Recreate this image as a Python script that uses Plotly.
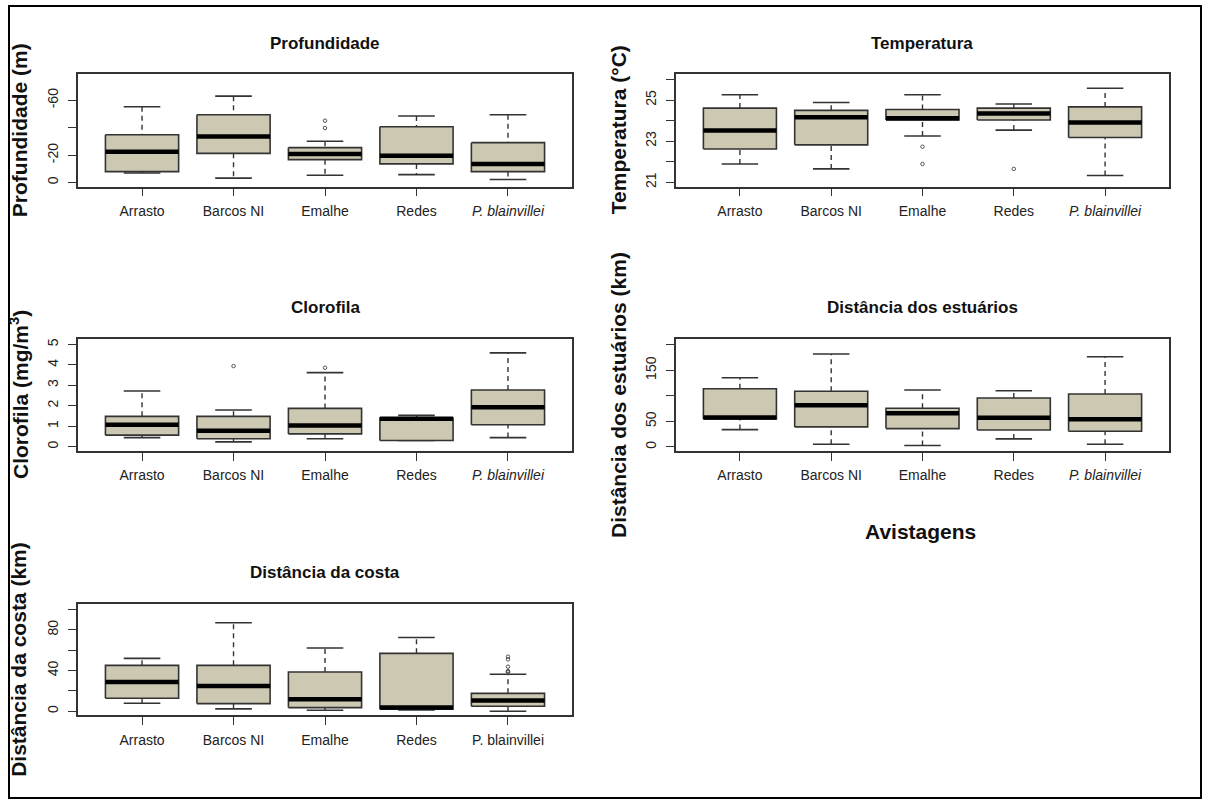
import plotly.graph_objects as go

W, H = 1205, 802

categories = ["Arrasto", "Barcos NI", "Emalhe", "Redes", "P. blainvillei"]
cat_pos = [1, 2, 3, 4, 5]

# ---- Profundidade (m) ----
prof_min = [-55.3, -63.0, -30.1, -48.5, -49.5]
prof_q1 = [-34.9, -49.5, -25.5, -40.7, -29.1]
prof_med = [-22.5, -33.5, -20.8, -19.6, -13.6]
prof_q3 = [-8.0, -21.3, -16.7, -13.6, -8.0]
prof_max = [-7.0, -3.2, -5.3, -5.8, -2.2]
prof_out_cat = [3, 3]
prof_out_val = [-45.1, -39.8]
prof_ticks = [0, -20, -60]
prof_ticktext = ["0", "-20", "-60"]
prof_minor = [-40]

# ---- Temperatura (°C) ----
temp_min = [21.89, 21.65, 23.25, 23.54, 21.33]
temp_q1 = [22.62, 22.82, 24.03, 24.03, 23.18]
temp_med = [23.52, 24.16, 24.11, 24.35, 23.91]
temp_q3 = [24.61, 24.50, 24.54, 24.61, 24.67]
temp_max = [25.26, 24.88, 25.26, 24.81, 25.58]
temp_out_cat = [3, 3, 4]
temp_out_val = [22.73, 21.89, 21.65]
temp_ticks = [21, 23, 25]
temp_ticktext = ["21", "23", "25"]
temp_minor = [22, 24, 26]

# ---- Clorofila (mg/m3) ----
chl_min = [0.44, 0.23, 0.38, 0.30, 0.44]
chl_q1 = [0.56, 0.38, 0.62, 0.30, 1.07]
chl_med = [1.07, 0.77, 1.03, 1.36, 1.92]
chl_q3 = [1.48, 1.48, 1.87, 1.40, 2.77]
chl_max = [2.72, 1.79, 3.62, 1.53, 4.59]
chl_out_cat = [2, 3]
chl_out_val = [3.94, 3.86]
chl_ticks = [0, 1, 2, 3, 4, 5]
chl_ticktext = ["0", "1", "2", "3", "4", "5"]
chl_minor = []

# ---- Distância dos estuários (km) ----
est_min = [33.9, 5.2, 2.6, 15.6, 5.2]
est_q1 = [54.5, 39.1, 35.8, 33.2, 30.7]
est_med = [57.5, 81.5, 65.8, 57.3, 54.1]
est_q3 = [114.0, 108.9, 75.6, 95.8, 103.6]
est_max = [135.5, 181.8, 111.4, 110.0, 176.6]
est_out_cat = []
est_out_val = []
est_ticks = [0, 50, 150]
est_ticktext = ["0", "50", "150"]
est_minor = [100, 200]

# ---- Distância da costa (km) ----
cost_min = [7.8, 2.3, 1.0, 1.3, 0.0]
cost_q1 = [12.7, 7.5, 3.6, 2.0, 4.9]
cost_med = [28.8, 24.8, 11.8, 3.6, 10.5]
cost_q3 = [45.1, 45.1, 38.6, 56.9, 17.6]
cost_max = [52.0, 86.9, 62.1, 72.5, 36.3]
cost_out_cat = [5, 5, 5, 5, 5, 5]
cost_out_val = [38.3, 38.9, 39.4, 43.8, 51.0, 53.6]
cost_ticks = [0, 40, 80]
cost_ticktext = ["0", "40", "80"]
cost_minor = [20, 60, 100]

FONT = "Liberation Sans, Arial, sans-serif"
BOX_FILL = "#CDC8B1"
EDGE = "#333333"
HALF = 0.4
CAP = 0.2

fig = go.Figure()


def add_panel(k, mins, q1, med, q3, maxs, oc, ov):
    xa = "x" if k == 1 else f"x{k}"
    ya = "y" if k == 1 else f"y{k}"
    # whiskers (dashed)
    wx, wy = [], []
    for p, a, b, c, d in zip(cat_pos, mins, q1, q3, maxs):
        wx += [p, p, None, p, p, None]
        wy += [a, b, None, c, d, None]
    fig.add_trace(go.Scatter(x=wx, y=wy, xaxis=xa, yaxis=ya, mode="lines",
                             line=dict(color=EDGE, width=1.4, dash="5px,4px"),
                             hoverinfo="skip", showlegend=False))
    # caps
    cx, cy = [], []
    for p, a, d in zip(cat_pos, mins, maxs):
        cx += [p - CAP, p + CAP, None, p - CAP, p + CAP, None]
        cy += [a, a, None, d, d, None]
    fig.add_trace(go.Scatter(x=cx, y=cy, xaxis=xa, yaxis=ya, mode="lines",
                             line=dict(color=EDGE, width=1.6),
                             hoverinfo="skip", showlegend=False))
    # boxes
    bx, by = [], []
    for p, b, c in zip(cat_pos, q1, q3):
        bx += [p - HALF, p + HALF, p + HALF, p - HALF, p - HALF, None]
        by += [b, b, c, c, b, None]
    fig.add_trace(go.Scatter(x=bx, y=by, xaxis=xa, yaxis=ya, mode="lines",
                             fill="toself", fillcolor=BOX_FILL,
                             line=dict(color=EDGE, width=1.6),
                             hoverinfo="skip", showlegend=False))
    # medians
    mx, my = [], []
    for p, m in zip(cat_pos, med):
        mx += [p - HALF, p + HALF, None]
        my += [m, m, None]
    fig.add_trace(go.Scatter(x=mx, y=my, xaxis=xa, yaxis=ya, mode="lines",
                             line=dict(color="black", width=4.5),
                             hoverinfo="skip", showlegend=False))
    if ov:
        fig.add_trace(go.Scatter(x=oc, y=ov, xaxis=xa, yaxis=ya, mode="markers",
                                 marker=dict(symbol="circle-open", size=3.5,
                                             color="#555555", line=dict(width=1)),
                                 hoverinfo="skip", showlegend=False))


add_panel(1, prof_min, prof_q1, prof_med, prof_q3, prof_max, prof_out_cat, prof_out_val)
add_panel(2, temp_min, temp_q1, temp_med, temp_q3, temp_max, temp_out_cat, temp_out_val)
add_panel(3, chl_min, chl_q1, chl_med, chl_q3, chl_max, chl_out_cat, chl_out_val)
add_panel(4, est_min, est_q1, est_med, est_q3, est_max, est_out_cat, est_out_val)
add_panel(5, cost_min, cost_q1, cost_med, cost_q3, cost_max, cost_out_cat, cost_out_val)

# panel geometry in pixels: (x0, x1, ytop, ybottom)
panels = {
    1: (78, 572, 73, 186),
    2: (676, 1169, 73, 186),
    3: (78, 572, 339, 451),
    4: (676, 1169, 339, 451),
    5: (78, 572, 605, 716),
}
yranges = {
    1: [2.9, -79.3],
    2: [20.79, 26.28],
    3: [-0.21, 5.26],
    4: [-7.8, 211],
    5: [-3.9, 104.9],
}
yticks = {
    1: (prof_ticks, prof_ticktext, prof_minor),
    2: (temp_ticks, temp_ticktext, temp_minor),
    3: (chl_ticks, chl_ticktext, chl_minor),
    4: (est_ticks, est_ticktext, est_minor),
    5: (cost_ticks, cost_ticktext, cost_minor),
}
titles = {
    1: "Profundidade",
    2: "Temperatura",
    3: "Clorofila",
    4: "Distância dos estuários",
    5: "Distância da costa",
}
ytitles = {
    1: "Profundidade (m)",
    2: "Temperatura (°C)",
    3: "Clorofila (mg/m<sup>3</sup>)",
    4: "Distância dos estuários (km)",
    5: "Distância da costa (km)",
}

italic_labels = categories[:4] + ["<i>" + categories[4] + "</i>"]

layout = dict(
    width=W, height=H,
    margin=dict(l=0, r=0, t=0, b=0),
    paper_bgcolor="white", plot_bgcolor="white",
    font=dict(family=FONT, color="#222222", size=14),
    showlegend=False,
)

annotations = []
for k, (x0, x1, yt, yb) in panels.items():
    sx = "" if k == 1 else str(k)
    xdom = [x0 / W, x1 / W]
    ydom = [1 - yb / H, 1 - yt / H]
    layout["xaxis" + sx] = dict(
        domain=xdom, anchor="y" + sx, range=[0.3, 5.7],
        tickvals=cat_pos,
        ticktext=(italic_labels if k != 5 else categories),
        showgrid=False, zeroline=False,
        showline=True, mirror=True, linecolor=EDGE, linewidth=1.5,
        ticks="outside", ticklen=8, tickwidth=1.3, tickcolor=EDGE,
        tickfont=dict(size=14, color="#222222"),
        ticklabelstandoff=3,
    )
    tv, tt, mv = yticks[k]
    yax = dict(
        domain=ydom, anchor="x" + sx, range=yranges[k],
        tickvals=tv, ticktext=tt, tickangle=-90,
        showgrid=False, zeroline=False,
        showline=True, mirror=True, linecolor=EDGE, linewidth=1.5,
        ticks="outside", ticklen=8, tickwidth=1.3, tickcolor=EDGE,
        tickfont=dict(size=14, color="#222222"),
        ticklabelstandoff=5,
    )
    if mv:
        yax["minor"] = dict(tickvals=mv, ticks="outside", ticklen=8,
                            tickwidth=1.3, tickcolor=EDGE, showgrid=False)
    layout["yaxis" + sx] = yax
    cx = (x0 + x1) / 2
    ty = {73: 43, 339: 307, 605: 573}[yt]
    annotations.append(dict(
        text="<b>" + titles[k] + "</b>", x=cx / W, y=1 - ty / H,
        xref="paper", yref="paper", showarrow=False,
        xanchor="center", yanchor="middle",
        font=dict(family=FONT, size=17, color="#111111")))
    ax = 19 if x0 < 300 else 618
    annotations.append(dict(
        text="<b>" + ytitles[k] + "</b>", x=ax / W, y=1 - ((yt + yb) / 2) / H,
        xref="paper", yref="paper", showarrow=False, textangle=-90,
        xanchor="center", yanchor="middle",
        font=dict(family=FONT, size=21, color="#111111")))

annotations.append(dict(
    text="<b>Avistagens</b>", x=921 / W, y=1 - 532 / H,
    xref="paper", yref="paper", showarrow=False,
    xanchor="center", yanchor="middle",
    font=dict(family=FONT, size=21, color="#111111")))

layout["annotations"] = annotations
layout["shapes"] = [dict(
    type="rect", xref="paper", yref="paper",
    x0=9 / W, x1=1201 / W, y0=1 - 799 / H, y1=1 - 5 / H,
    line=dict(color="black", width=2), fillcolor="rgba(0,0,0,0)", layer="above")]

fig.update_layout(**layout)
fig.write_html(
    "out.html",
    config={"displayModeBar": False},
    post_script="document.body.style.margin='0px';document.body.style.overflow='hidden';",
)
